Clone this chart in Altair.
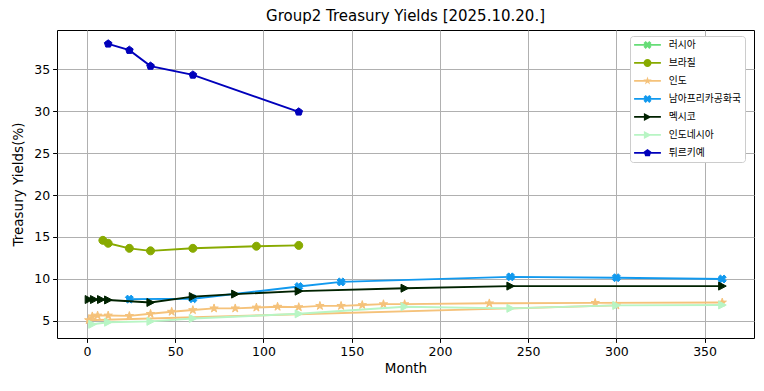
import altair as alt
import pandas as pd
import numpy as np

# ---------------- data ----------------
countries = ["러시아", "브라질", "인도", "남아프리카공화국", "멕시코", "인도네시아", "튀르키예"]
colors = ["#66dd77", "#88aa00", "#f5c27a", "#1199ee", "#002200", "#b8f5c4", "#0000bb"]

russia_m = []
russia_v = []

brazil_m = [9, 12, 24, 36, 60, 96, 120]
brazil_v = [14.6, 14.25, 13.65, 13.35, 13.65, 13.9, 14.0]

india_m = [300, 1, 3, 6, 12, 24, 36, 48, 60, 72, 84, 96, 108, 120, 132, 144, 156, 168, 180, 228, 288, 360]
india_v = [6.85, 5.1, 5.55, 5.65, 5.65, 5.6, 5.85, 6.1, 6.3, 6.5, 6.5, 6.6, 6.7, 6.65, 6.8, 6.8, 6.9, 7.0, 7.0, 7.1, 7.15, 7.2]

safrica_m = [24, 60, 120, 144, 240, 300, 360]
safrica_v = [7.6, 7.65, 9.1, 9.65, 10.25, 10.15, 10.0]

mexico_m = [1, 4, 8, 12, 36, 60, 84, 120, 180, 240, 360]
mexico_v = [7.55, 7.55, 7.55, 7.5, 7.2, 7.9, 8.2, 8.55, 8.9, 9.15, 9.15]

indonesia_m = [3, 12, 36, 60, 120, 180, 240, 300, 360]
indonesia_v = [4.6, 4.85, 4.95, 5.3, 5.85, 6.7, 6.5, 6.85, 6.9]

turkey_m = [12, 24, 36, 60, 120]
turkey_v = [38.0, 37.25, 35.35, 34.3, 29.9]

x_ticks = [0, 50, 100, 150, 200, 250, 300, 350]
y_ticks = [5, 10, 15, 20, 25, 30, 35]

series = {
    "러시아": (russia_m, russia_v),
    "브라질": (brazil_m, brazil_v),
    "인도": (india_m, india_v),
    "남아프리카공화국": (safrica_m, safrica_v),
    "멕시코": (mexico_m, mexico_v),
    "인도네시아": (indonesia_m, indonesia_v),
    "튀르키예": (turkey_m, turkey_v),
}

rows = []
for c, (ms, vs) in series.items():
    for i, (m, v) in enumerate(zip(ms, vs)):
        rows.append({"country": c, "month": m, "yield": v, "idx": i})
df = pd.DataFrame(rows)
legend_df = pd.DataFrame({"country": countries})

# ---------------- marker shapes ----------------
def poly(pts, dx=0.0):
    return "M" + "L".join(f"{x + dx:.3f},{y:.3f}" for x, y in pts) + "Z"

def reg(n, r_out, r_in=None):
    pts = []
    k = n * 2 if r_in is not None else n
    for i in range(k):
        ang = -np.pi / 2 + i * 2 * np.pi / k
        r = r_out if (r_in is None or i % 2 == 0) else r_in
        pts.append((r * np.cos(ang), r * np.sin(ang)))
    return pts

x_pts = [(-1, -0.45), (-0.45, -1), (0, -0.55), (0.45, -1), (1, -0.45), (0.55, 0),
         (1, 0.45), (0.45, 1), (0, 0.55), (-0.45, 1), (-1, 0.45), (-0.55, 0)]
star_pts = reg(5, 1.1, 0.42)
tri_pts = [(-0.9, -1), (1, 0), (-0.9, 1)]
pent_pts = reg(5, 1.0)

def circle(dx=0.0, r=1.0):
    return (f"M{dx + r:.3f},0A{r},{r},0,1,1,{dx - r:.3f},0"
            f"A{r},{r},0,1,1,{dx + r:.3f},0Z")

marker_paths = {
    "러시아": poly(x_pts),
    "브라질": circle(),
    "인도": poly(star_pts),
    "남아프리카공화국": poly(x_pts),
    "멕시코": poly(tri_pts),
    "인도네시아": poly(tri_pts),
    "튀르키예": poly(pent_pts),
}

DX = 2.15
line_rect = "M-1.2,-0.22L5.5,-0.22L5.5,0.22L-1.2,0.22Z"
legend_paths = [
    line_rect + poly(x_pts, DX),
    line_rect + circle(DX),
    line_rect + poly(star_pts, DX),
    line_rect + poly(x_pts, DX),
    line_rect + poly(tri_pts, DX),
    line_rect + poly(tri_pts, DX),
    line_rect + poly(pent_pts, DX),
]

# ---------------- chart ----------------
x_enc = alt.X("month:Q", title="Month",
              scale=alt.Scale(domain=[-17, 378], nice=False, zero=False),
              axis=alt.Axis(values=x_ticks, format="d"))
y_enc = alt.Y("yield:Q", title="Treasury Yields(%)",
              scale=alt.Scale(domain=[2.97, 39.65], nice=False, zero=False),
              axis=alt.Axis(values=y_ticks, format="d"))

layers = []
base = alt.Chart(df)
for c, col in zip(countries, colors):
    if len(series[c][0]) == 0:
        continue
    filt = alt.datum.country == c
    ln = base.transform_filter(filt).mark_line(
        strokeWidth=1.9, color=col).encode(x=x_enc, y=y_enc, order="idx:Q")
    pt = base.transform_filter(filt).mark_point(
        shape=marker_paths[c], filled=True, opacity=1, size=64,
        fill=col, stroke=col, strokeWidth=1).encode(x=x_enc, y=y_enc)
    layers += [ln, pt]

leg = dict(title=None, orient="none", legendX=573, legendY=6,
           padding=4, labelOffset=25, rowPadding=7.0,
           symbolSize=64, symbolStrokeWidth=0,
           labelFont="Noto Sans CJK KR", labelFontSize=9.8, labelColor="black",
           strokeColor="#cccccc", fillColor="white", cornerRadius=3)

# legend-only layer: its marks sit outside the plot area and are clipped away
legend_layer = alt.Chart(legend_df).mark_point(
    filled=True, opacity=1, clip=True).encode(
    x=alt.value(-200), y=alt.value(-200),
    color=alt.Color("country:N", scale=alt.Scale(domain=countries, range=colors),
                    legend=alt.Legend(**leg)),
    shape=alt.Shape("country:N",
                    scale=alt.Scale(domain=countries, range=legend_paths),
                    legend=alt.Legend(**leg)))
layers.append(legend_layer)

chart = alt.layer(*layers).properties(
    width=697, height=308,
    title=alt.TitleParams(text="Group2 Treasury Yields [2025.10.20.]",
                          font="DejaVu Sans", fontSize=15, fontWeight="normal",
                          anchor="middle", offset=6, color="black"),
    padding={"left": 49, "top": 22, "right": 2, "bottom": 40},
    autosize=alt.AutoSizeParams(type="none"),
).configure_view(
    stroke="black", strokeWidth=1
).configure_axis(
    labelFont="DejaVu Sans", labelFontSize=12.5, labelColor="black",
    titleFont="DejaVu Sans", titleFontSize=13.5, titleFontWeight="normal",
    titleColor="black",
    domain=False, tickColor="black", tickSize=4.4, tickWidth=1,
    labelPadding=3, grid=True, gridColor="#b0b0b0", gridWidth=1,
).configure_axisY(
    titlePadding=8
).configure_axisX(
    titlePadding=4
)

chart.save("out.html", embed_options={"renderer": "svg", "actions": False})
